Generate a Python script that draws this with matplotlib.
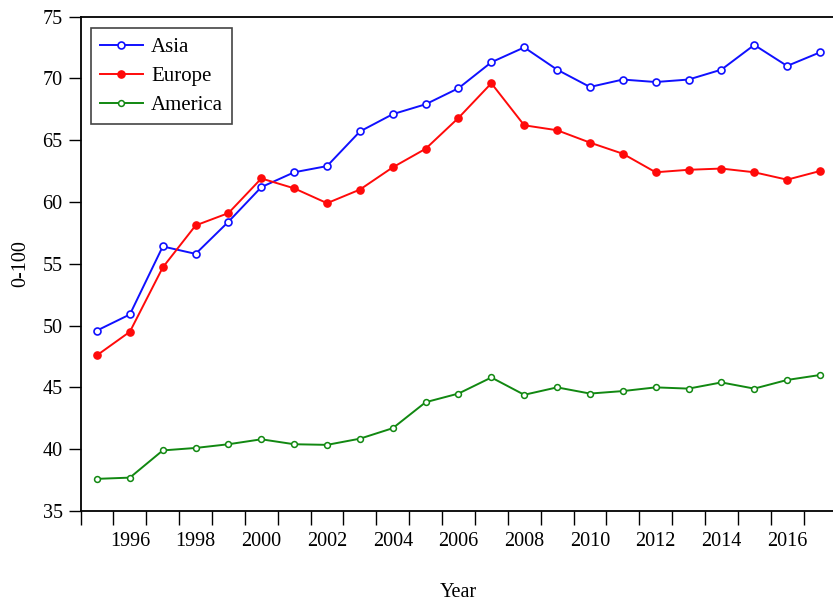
import matplotlib
matplotlib.use("Agg")
import matplotlib.pyplot as plt
from matplotlib.ticker import FixedLocator
import numpy as np

years = list(range(1995, 2018))
asia = [49.6, 50.9, 56.4, 55.8, 58.4, 61.2, 62.4, 62.9, 65.7, 67.1, 67.9, 69.2,
        71.3, 72.5, 70.7, 69.3, 69.9, 69.7, 69.9, 70.7, 72.7, 71.0, 72.1]
europe = [47.6, 49.5, 54.7, 58.1, 59.1, 61.9, 61.1, 59.9, 61.0, 62.8, 64.3, 66.8,
          69.6, 66.2, 65.8, 64.8, 63.9, 62.4, 62.6, 62.7, 62.4, 61.8, 62.5]
america = [37.6, 37.7, 39.9, 40.1, 40.4, 40.8, 40.4, 40.35, 40.85, 41.7, 43.8, 44.5,
           45.8, 44.4, 45.0, 44.5, 44.7, 45.0, 44.9, 45.4, 44.9, 45.6, 46.0]
year_labels = list(range(1996, 2017, 2))
y_ticks = [35, 40, 45, 50, 55, 60, 65, 70, 75]

plt.rcParams['font.family'] = ['Liberation Serif', 'DejaVu Serif']
FS = 14.5
LFS = 15

fig = plt.figure(figsize=(8.33, 6.03), dpi=100)
W, H = 833, 603
left_px, right_px, top_px, bot_px = 80.6, 836.4, 16.5, 511
ax = fig.add_axes([left_px / W, 1 - bot_px / H, (right_px - left_px) / W, (bot_px - top_px) / H])

ax.plot(years, asia, color='#1010ff', lw=1.4, marker='o', ms=5.0,
        mfc='white', mec='#1010ff', mew=1.2, label='Asia')
ax.plot(years, europe, color='#ff0a0a', lw=1.4, marker='o', ms=5.2,
        mfc='#ff0a0a', mec='#ff0a0a', mew=1.0, label='Europe')
ax.plot(years, america, color='#118811', lw=1.4, marker='o', ms=4.2,
        mfc='white', mec='#118811', mew=1.1, label='America')

ax.set_xlim(years[0] - 0.5, years[-1] + 0.5)
ax.set_ylim(35, 75)

ax.xaxis.set_major_locator(FixedLocator(year_labels))
ax.set_xticklabels([str(y) for y in year_labels])
ax.xaxis.set_minor_locator(FixedLocator([y - 0.5 for y in years] + [years[-1] + 0.5]))
ax.tick_params(axis='x', which='major', length=0, pad=15, labelsize=FS)
ax.tick_params(axis='x', which='minor', length=10, width=1.0, direction='out', color='black')

ax.yaxis.set_major_locator(FixedLocator(y_ticks))
ax.tick_params(axis='y', which='major', length=9, width=1.0, direction='out', pad=4, labelsize=FS)
ax.yaxis.set_minor_locator(FixedLocator([]))

for s in ['left', 'bottom', 'top', 'right']:
    ax.spines[s].set_linewidth(1.3)
    ax.spines[s].set_color('black')

ax.set_xlabel('Year', fontsize=FS, labelpad=23)
ax.set_ylabel('0-100', fontsize=FS, labelpad=9)

leg = ax.legend(loc='upper left', bbox_to_anchor=((90.7 - left_px) / (right_px - left_px),
                                                  1 - (28 - top_px) / (bot_px - top_px)),
                borderaxespad=0, fontsize=LFS, frameon=True, fancybox=False,
                handlelength=2.05, handletextpad=0.4, labelspacing=0.45, borderpad=0.45)
fr = leg.get_frame()
fr.set_edgecolor('#444444')
fr.set_linewidth(1.2)
fr.set_alpha(1)

fig.savefig('out.png', dpi=100)
